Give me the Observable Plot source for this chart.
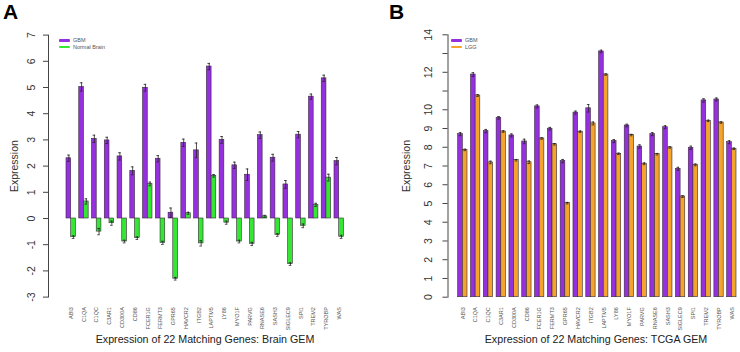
<!DOCTYPE html>
<html><head><meta charset="utf-8">
<script src="https://cdn.jsdelivr.net/npm/d3@7"></script>
<script src="https://cdn.jsdelivr.net/npm/@observablehq/plot@0.6"></script>
<style>
body{margin:0;background:#fff;font-family:"Liberation Sans",Arial,sans-serif;}
#wrap{position:relative;width:740px;height:352px;overflow:hidden;}
.panel{position:absolute;top:0;width:370px;height:352px;}
.letter{position:absolute;top:0px;font-weight:bold;font-size:21px;color:#000;}
.title{position:absolute;top:333px;font-size:10.7px;color:#222;white-space:nowrap;transform:translateX(-50%);}
.leg{position:absolute;font-size:5.5px;color:#555;line-height:6.6px;}
.leg div{display:flex;align-items:center;}
.leg span.sw{display:inline-block;width:11px;height:2.6px;margin-right:3px;border-radius:1px;}
</style></head><body>
<div id="wrap">
  <div class="panel" id="pa" style="left:0"></div>
  <div class="panel" id="pb" style="left:370px"></div>
  <div class="letter" style="left:3px">A</div>
  <div class="letter" style="left:389px">B</div>
  <div class="title" style="left:205px">Expression of 22 Matching Genes: Brain GEM</div>
  <div class="title" style="left:596px">Expression of 22 Matching Genes: TCGA GEM</div>
  <div class="leg" id="lega" style="left:59px;top:37px"></div>
  <div class="leg" id="legb" style="left:451px;top:37px"></div>
</div>
<script>
const genes = ["ABI3","C1QA","C1QC","C3AR1","CD300A","CD86","FCER1G","FERMT3","GPR65","HAVCR2","ITGB2","LAPTM5","LY86","MYO1F","PARVG","RNASE6","SASH3","SIGLEC9","SPI1","TREM2","TYROBP","WAS"];

// Panel A: Brain GEM
const brainSeries = ["GBM","Normal Brain"];
const brainGBM    = [2.30,5.02,3.04,2.98,2.37,1.82,4.99,2.28,0.22,2.89,2.60,5.80,3.00,2.03,1.67,3.18,2.32,1.30,3.20,4.65,5.35,2.19];
const brainGBMErr = [0.12,0.16,0.14,0.12,0.14,0.15,0.13,0.12,0.18,0.14,0.28,0.12,0.13,0.12,0.22,0.12,0.13,0.15,0.12,0.10,0.12,0.14];
const brainNormal    = [-0.71,0.65,-0.50,-0.18,-0.88,-0.75,1.32,-0.93,-2.30,0.20,-0.95,1.63,-0.16,-0.88,-0.97,0.08,-0.63,-1.74,-0.28,0.52,1.56,-0.70];
const brainNormalErr = [0.05,0.10,0.12,0.08,0.05,0.05,0.07,0.06,0.05,0.04,0.10,0.05,0.06,0.05,0.06,0.04,0.05,0.05,0.07,0.06,0.13,0.06];
const brainTicks = [-3,-2,-1,0,1,2,3,4,5,6,7];

// Panel B: TCGA GEM
const tcgaSeries = ["GBM","LGG"];
const tcgaGBM    = [8.70,11.88,8.86,9.57,8.63,8.31,10.18,8.99,7.26,9.85,10.08,13.11,8.33,9.16,8.04,8.70,9.07,6.85,7.97,10.50,10.55,8.27];
const tcgaGBMErr = [0.08,0.10,0.09,0.07,0.08,0.12,0.08,0.07,0.09,0.08,0.20,0.07,0.08,0.07,0.09,0.08,0.08,0.08,0.09,0.09,0.08,0.08];
const tcgaLGG    = [7.86,10.76,7.19,8.84,7.31,7.20,8.47,8.16,5.02,8.83,9.27,11.88,7.65,8.65,7.12,7.63,7.99,5.37,7.06,9.41,9.32,7.92];
const tcgaLGGErr = [0.04,0.05,0.07,0.04,0.04,0.07,0.04,0.04,0.04,0.04,0.08,0.04,0.04,0.04,0.05,0.04,0.04,0.05,0.05,0.04,0.04,0.04];
const tcgaTicks = [0,1,2,3,4,5,6,7,8,9,10,11,12,13,14];
const tcgaTickLabels = ["0","1","2","3","4","5","6","7","8","9","10","","12","","14"];

const colPurple = "#9430DE";
const colGreen = "#35E635";
const colOrange = "#F4A42C";

function rowsOf(vals, errs) {
  return genes.map((g, i) => ({gene: g, value: vals[i], err: errs[i]}));
}

function panel(seriesRows, series, colors, opt) {
  const W = 370, H = 352, n = genes.length;
  // band geometry derived from the x scale settings
  const step = (W - opt.mr - opt.ml) / (n - opt.pi + 2 * opt.po);
  const bw = step * (1 - opt.pi);
  const half = bw / 2, cap = 2.6;
  const marks = [];
  seriesRows.forEach((rows, k) => {
    const left = k === 0;
    const barInset = left ? {insetRight: half} : {insetLeft: half};
    const dx = left ? -bw / 4 : bw / 4;
    const capInset = left
      ? {insetLeft: bw / 4 - cap / 2, insetRight: 3 * bw / 4 - cap / 2}
      : {insetLeft: 3 * bw / 4 - cap / 2, insetRight: bw / 4 - cap / 2};
    marks.push(
      Plot.barY(rows, {x: "gene", y1: 0, y2: "value", fill: colors[k], stroke: "#3a2a3a", strokeWidth: 0.6, ...barInset}),
      Plot.ruleX(rows, {x: "gene", y1: d => d.value - d.err, y2: d => d.value + d.err, dx, stroke: "#222", strokeWidth: 0.8}),
      Plot.tickY(rows, {x: "gene", y: d => d.value + d.err, ...capInset, stroke: "#222", strokeWidth: 0.8}),
      Plot.tickY(rows, {x: "gene", y: d => d.value - d.err, ...capInset, stroke: "#222", strokeWidth: 0.8})
    );
  });
  return Plot.plot({
    width: W, height: H,
    marginLeft: opt.ml, marginRight: opt.mr, marginTop: opt.mt, marginBottom: opt.mb,
    style: {fontFamily: "Liberation Sans, Arial, sans-serif", color: "#333", background: "transparent"},
    x: {type: "band", domain: genes, paddingInner: opt.pi, paddingOuter: opt.po, align: opt.align, round: false},
    y: {domain: opt.ydom},
    marks: [
      Plot.frame({anchor: "left", stroke: "#444"}),
      Plot.axisY(opt.ticks, {tickSize: 5, tickPadding: opt.tp, tickRotate: -90, fontSize: 10.5, tickFormat: opt.fmt, stroke: "#444", fill: "#333",
        label: "Expression", labelAnchor: "center", labelOffset: opt.lo, labelArrow: "none"}),
      Plot.axisX({tickRotate: -90, tickSize: 0, tickPadding: 10, fontSize: 5.5, fill: "#555", label: null}),
      ...marks
    ]
  });
}

document.getElementById("pa").appendChild(panel(
  [rowsOf(brainGBM, brainGBMErr), rowsOf(brainNormal, brainNormalErr)], brainSeries, [colPurple, colGreen], {
  ml: 48, mr: 8.6, mt: 34.6, mb: 55.4, pi: 0.263, po: 1.41, align: 0.5, ydom: [-3, 7], ticks: brainTicks, fmt: d => String(d), lo: 38, tp: 9
}));
document.getElementById("pb").appendChild(panel(
  [rowsOf(tcgaGBM, tcgaGBMErr), rowsOf(tcgaLGG, tcgaLGGErr)], tcgaSeries, [colPurple, colOrange], {
  ml: 77.5, mr: 0, mt: 34.3, mb: 55.3, pi: 0.274, po: 0.554, align: 0.718, ydom: [0, 14], ticks: tcgaTicks,
  fmt: d => tcgaTickLabels[tcgaTicks.indexOf(d)], lo: 45, tp: 11
}));

function legend(id, series, colors) {
  const el = document.getElementById(id);
  series.forEach((s, i) => {
    const row = document.createElement("div");
    const sw = document.createElement("span"); sw.className = "sw"; sw.style.background = colors[i];
    row.appendChild(sw); row.appendChild(document.createTextNode(s));
    el.appendChild(row);
  });
}
legend("lega", brainSeries, [colPurple, colGreen]);
legend("legb", tcgaSeries, [colPurple, colOrange]);
</script>
</body></html>
